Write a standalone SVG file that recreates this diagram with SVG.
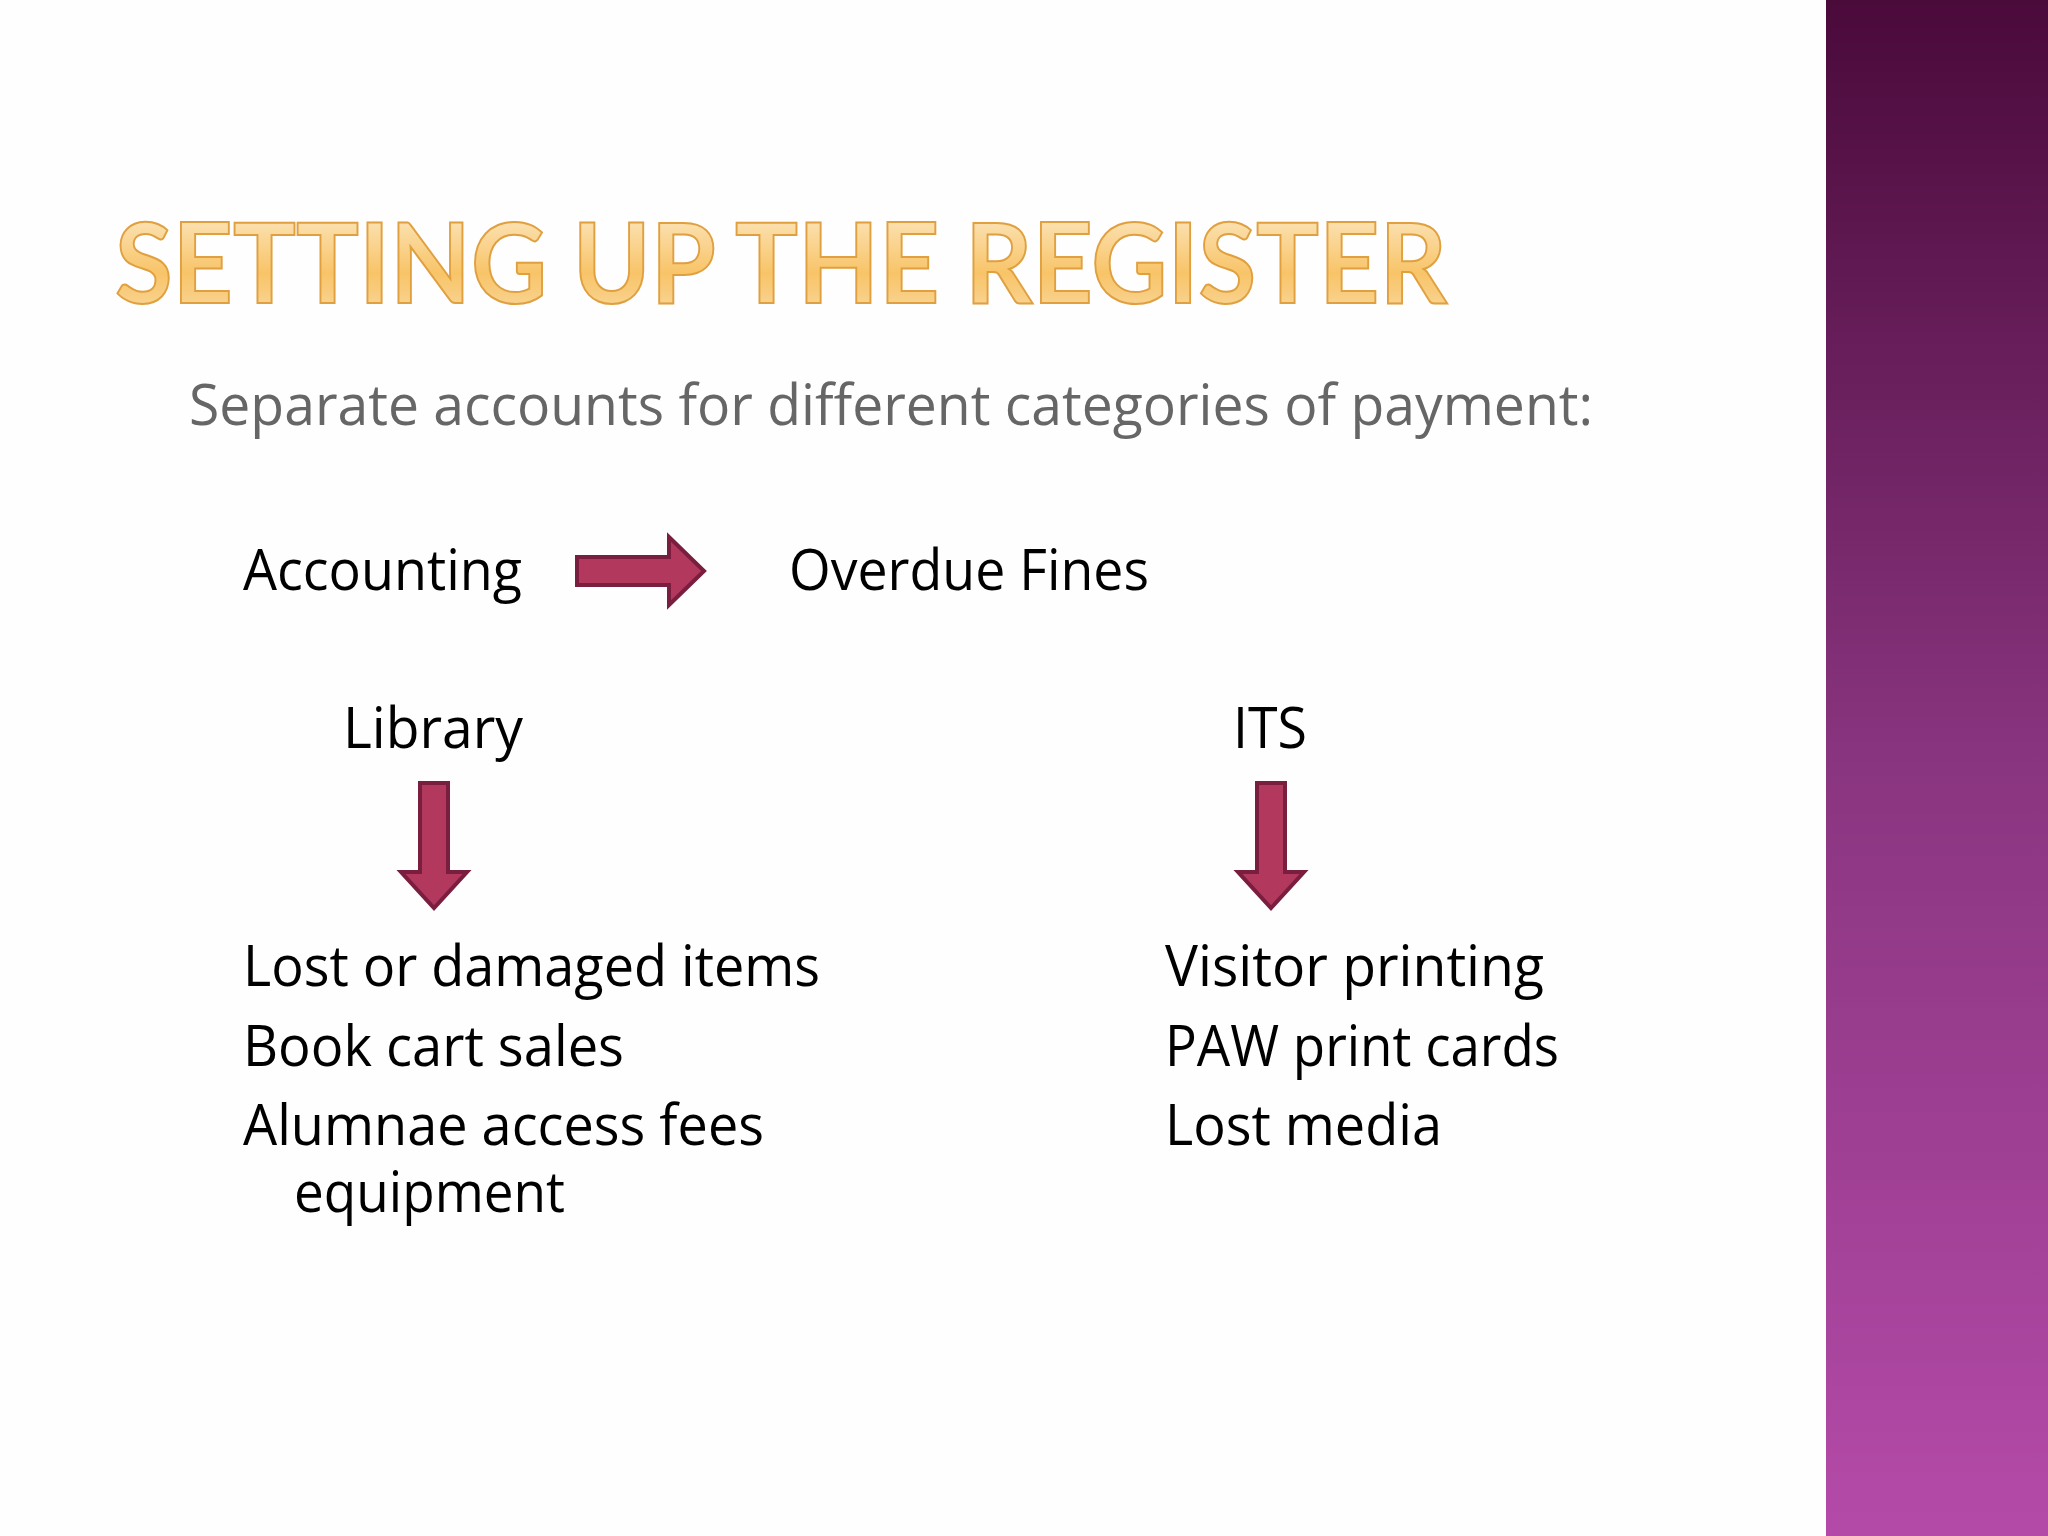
<svg xmlns="http://www.w3.org/2000/svg" width="2048" height="1536" viewBox="0 0 2048 1536">
<defs>
<linearGradient id="bar" x1="0" y1="0" x2="0" y2="1"><stop offset="0" stop-color="#4a0a3a"/><stop offset="0.5" stop-color="#8a3580"/><stop offset="1" stop-color="#b44aa8"/></linearGradient>
<linearGradient id="ttl" x1="0" y1="0" x2="0" y2="1"><stop offset="0" stop-color="#fdf0d8"/><stop offset="0.6" stop-color="#f8c468"/><stop offset="1" stop-color="#f9dca8"/></linearGradient>
<style>
.t{font-family:"Open Sans","Liberation Sans",sans-serif;fill:#000;font-size:56px}
.ar{fill:#b2385e;stroke:#7a1e40;stroke-width:4}
</style>
</defs>
<rect width="2048" height="1536" fill="#fefefe"/>
<rect x="1826" y="0" width="222" height="1536" fill="url(#bar)"/>
<g id="title"><text x="115" y="303" font-family="Lato,'Liberation Sans',sans-serif" font-size="112" font-weight="bold" fill="url(#ttl)" stroke="#e0a040" stroke-width="2" textLength="1332" lengthAdjust="spacingAndGlyphs">SETTING UP THE REGISTER</text></g>
<g id="subtitle"><text x="189" y="425" class="t" style="fill:#666" textLength="1404" lengthAdjust="spacingAndGlyphs">Separate accounts for different categories of payment:</text></g>
<g id="accounting"><text x="243" y="590" class="t" textLength="279" lengthAdjust="spacingAndGlyphs">Accounting</text></g>
<g id="overdue"><text x="789" y="590" class="t" textLength="360" lengthAdjust="spacingAndGlyphs">Overdue Fines</text></g>
<g id="library"><text x="343" y="748" class="t" textLength="180" lengthAdjust="spacingAndGlyphs">Library</text></g>
<g id="its"><text x="1233" y="748" class="t" textLength="74" lengthAdjust="spacingAndGlyphs">ITS</text></g>
<g id="libitems">
<text x="243" y="986" class="t" textLength="577" lengthAdjust="spacingAndGlyphs">Lost or damaged items</text>
<text x="243" y="1066" class="t" textLength="381" lengthAdjust="spacingAndGlyphs">Book cart sales</text>
<text x="243" y="1145" class="t" textLength="521" lengthAdjust="spacingAndGlyphs">Alumnae access fees</text>
<text x="294" y="1212" class="t" textLength="271" lengthAdjust="spacingAndGlyphs">equipment</text>
</g>
<g id="itsitems">
<text x="1165" y="986" class="t" textLength="379" lengthAdjust="spacingAndGlyphs">Visitor printing</text>
<text x="1165" y="1066" class="t" textLength="394" lengthAdjust="spacingAndGlyphs">PAW print cards</text>
<text x="1165" y="1145" class="t" textLength="277" lengthAdjust="spacingAndGlyphs">Lost media</text>
</g>
<g id="connectors">
<path class="ar" d="M577,557 H669 V537 L704,571 L669,605 V585 H577 Z"/>
<path class="ar" d="M420,783 V872 H401 L434,908 L467,872 H448 V783 Z"/>
<path class="ar" d="M1257,783 V872 H1238 L1271,908 L1304,872 H1285 V783 Z"/>
</g>
</svg>
